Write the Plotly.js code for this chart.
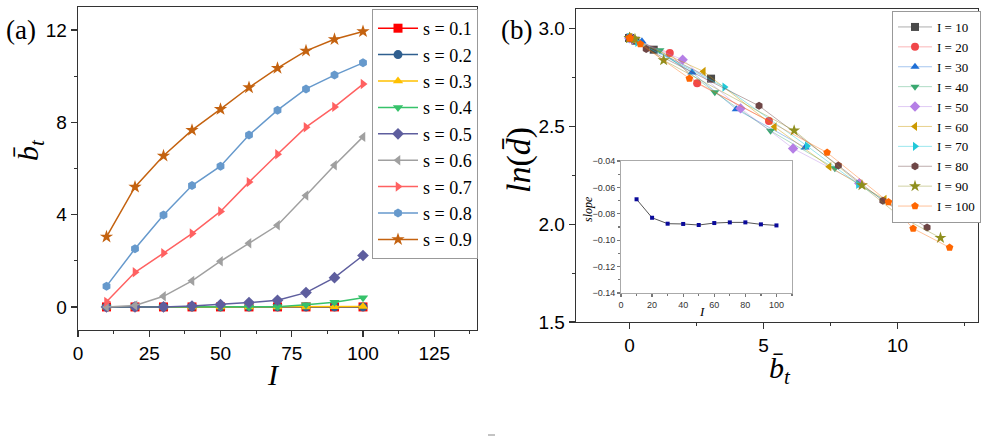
<!DOCTYPE html>
<html>
<head>
<meta charset="utf-8">
<script src="https://cdn.plot.ly/plotly-3.0.1.min.js"></script>
<style>html,body{margin:0;padding:0;background:#fff;overflow:hidden;}#chart{width:986px;height:437px;}</style>
</head>
<body>
<div id="chart"></div>
<script>
// ---------- Panel (a): b_t vs I ----------
const I_vals = [10, 20, 30, 40, 50, 60, 70, 80, 90, 100];
const s_labels = ['s = 0.1','s = 0.2','s = 0.3','s = 0.4','s = 0.5','s = 0.6','s = 0.7','s = 0.8','s = 0.9'];
const bt_s01 = [0, 0, 0, 0, 0, 0, 0, 0, 0, 0];
const bt_s02 = [0, 0, 0, 0, 0, 0, 0, 0, 0, 0];
const bt_s03 = [0, 0, 0, 0, 0, 0, 0, 0, 0.01, 0.02];
const bt_s04 = [0, 0, 0, 0, 0, 0, 0.01, 0.09, 0.20, 0.40];
const bt_s05 = [0, 0, 0, 0.04, 0.10, 0.19, 0.29, 0.62, 1.27, 2.23];
const bt_s06 = [0, 0.06, 0.46, 1.13, 1.98, 2.76, 3.54, 4.83, 6.14, 7.37];
const bt_s07 = [0.22, 1.50, 2.33, 3.18, 4.14, 5.41, 6.62, 7.79, 8.67, 9.66];
const bt_s08 = [0.90, 2.52, 3.98, 5.26, 6.10, 7.45, 8.53, 9.45, 10.05, 10.58];
const bt_s09 = [3.04, 5.20, 6.55, 7.66, 8.57, 9.51, 10.35, 11.10, 11.60, 11.94];

// ---------- Panel (b): ln(d) vs b_t (x values come from panel a, s = 0.1 ... 0.9) ----------
const I_labels = ['I = 10','I = 20','I = 30','I = 40','I = 50','I = 60','I = 70','I = 80','I = 90','I = 100'];
const lnd_I10  = [2.952, 2.952, 2.952, 2.952, 2.952, 2.952, 2.938, 2.892, 2.744];
const lnd_I20  = [2.952, 2.952, 2.952, 2.952, 2.952, 2.948, 2.875, 2.720, 2.528];
const lnd_I30  = [2.952, 2.952, 2.952, 2.952, 2.952, 2.935, 2.776, 2.588, 2.392];
const lnd_I40  = [2.952, 2.952, 2.952, 2.952, 2.950, 2.889, 2.674, 2.477, 2.286];
const lnd_I50  = [2.952, 2.952, 2.952, 2.952, 2.945, 2.841, 2.592, 2.387, 2.209];
const lnd_I60  = [2.952, 2.952, 2.952, 2.952, 2.940, 2.781, 2.498, 2.294, 2.127];
const lnd_I70  = [2.952, 2.952, 2.952, 2.952, 2.930, 2.701, 2.400, 2.204, 2.052];
const lnd_I80  = [2.952, 2.952, 2.952, 2.948, 2.896, 2.605, 2.300, 2.120, 1.983];
const lnd_I90  = [2.952, 2.952, 2.952, 2.947, 2.838, 2.479, 2.199, 2.043, 1.930];
const lnd_I100 = [2.952, 2.952, 2.950, 2.921, 2.745, 2.366, 2.113, 1.978, 1.881];

// ---------- Inset: slope vs I ----------
const slope_vals = [-0.069, -0.083, -0.0875, -0.0877, -0.0885, -0.087, -0.0865, -0.0865, -0.088, -0.0888];

// ---------- styles ----------
const sColors = ['#FF0000','#2F5F8F','#FFC000','#36C26A','#5E5E9E','#A0A0A0','#FF6161','#6699CC','#C4620F'];
const sSymbols = ['square','circle','triangle-up','triangle-down','diamond','triangle-left','triangle-right','hexagon','star'];
const iColors = ['#4A4A4A','#F0474A','#1F6FD6','#3AA870','#B57FE6','#CC9900','#22C8D8','#6E4646','#8F8F1E','#FF6600'];
const iLines  = ['rgba(74,74,74,0.45)','rgba(240,71,74,0.4)','rgba(31,111,214,0.4)','rgba(58,168,112,0.4)','rgba(181,127,230,0.4)','rgba(204,153,0,0.45)','rgba(34,200,216,0.45)','rgba(110,70,70,0.45)','rgba(143,143,30,0.4)','rgba(255,102,0,0.4)'];
const iSymbols = ['square','circle','triangle-up','triangle-down','diamond','triangle-left','triangle-right','hexagon','star','pentagon'];

const btSeries = [bt_s01, bt_s02, bt_s03, bt_s04, bt_s05, bt_s06, bt_s07, bt_s08, bt_s09];
const lndSeries = [lnd_I10, lnd_I20, lnd_I30, lnd_I40, lnd_I50, lnd_I60, lnd_I70, lnd_I80, lnd_I90, lnd_I100];

const serif = 'Liberation Serif';
const sans = 'Liberation Sans';

const traces = [];
btSeries.forEach((ys, k) => {
  traces.push({
    x: I_vals, y: ys, type: 'scatter', mode: 'lines+markers', name: s_labels[k],
    xaxis: 'x', yaxis: 'y', legend: 'legend',
    line: {color: sColors[k], width: 1.5},
    marker: {symbol: sSymbols[k], color: sColors[k], size: sSymbols[k] === 'star' ? 10 : 9}
  });
});
lndSeries.forEach((ys, j) => {
  const xs = btSeries.map(s => s[j]);
  traces.push({
    x: xs, y: ys, type: 'scatter', mode: 'lines+markers', name: I_labels[j],
    xaxis: 'x2', yaxis: 'y2', legend: 'legend2',
    line: {color: iLines[j], width: 1},
    marker: {symbol: iSymbols[j], color: iColors[j], size: iSymbols[j] === 'star' ? 9 : 8}
  });
});
traces.push({
  x: I_vals, y: slope_vals, type: 'scatter', mode: 'lines+markers', name: 'slope',
  xaxis: 'x3', yaxis: 'y3', showlegend: false,
  line: {color: '#555555', width: 1},
  marker: {symbol: 'square', color: '#0A0A9A', size: 4}
});

const W = 986, H = 437;
const px = v => v / W, py = v => 1 - v / H;
const tickFont = {family: sans, size: 19, color: '#000'};
function axis(range, dtick, mdtick, domain, anchor, opts) {
  return Object.assign({
    range: range, dtick: dtick, tick0: 0, domain: domain, anchor: anchor,
    showgrid: false, zeroline: false, showline: true, mirror: true,
    linecolor: '#333', linewidth: 1.3, ticks: 'outside', ticklen: 6, tickwidth: 1.2, tickcolor: '#333',
    tickfont: tickFont, automargin: false,
    minor: {dtick: mdtick, tick0: 0, ticks: 'outside', ticklen: 3, tickcolor: '#333', tickwidth: 1, showgrid: false}
  }, opts || {});
}
const insetTickFont = {family: sans, size: 9, color: '#333'};

function ann(text, x, y, size, extra) {
  return Object.assign({text: text, x: px(x), y: py(y), xref: 'paper', yref: 'paper',
    xanchor: 'center', yanchor: 'middle', showarrow: false,
    font: {family: serif, size: size, color: '#000'}}, extra || {});
}

const layout = {
  width: W, height: H,
  margin: {l: 0, r: 0, t: 0, b: 0, autoexpand: false},
  font: {family: serif, color: '#000'},
  paper_bgcolor: '#fff', plot_bgcolor: 'rgba(0,0,0,0)',
  showlegend: true,
  xaxis: axis([0, 140], 25, 12.5, [px(78), px(477)], 'y'),
  yaxis: axis([-1, 13], 4, 2, [py(330), py(7)], 'x'),
  xaxis2: axis([-2, 13], 5, 2.5, [px(576), px(978)], 'y2'),
  yaxis2: axis([1.5, 3.1], 0.5, 0.25, [py(322), py(9)], 'x2', {tickformat: '.1f', tick0: 1.5,
    minor: {dtick: 0.25, tick0: 1.5, ticks: 'outside', ticklen: 3, tickcolor: '#333', tickwidth: 1, showgrid: false}}),
  xaxis3: axis([0, 110], 20, 10, [px(621), px(792)], 'y3', {
    linecolor: '#AAAAAA', linewidth: 1, ticklen: 3, tickcolor: '#777', tickfont: insetTickFont,
    minor: {dtick: 10, tick0: 0, ticks: 'outside', ticklen: 2, tickcolor: '#777', showgrid: false}
  }),
  yaxis3: axis([-0.14, -0.04], 0.02, 0.01, [py(293), py(161)], 'x3', {
    tick0: -0.14, tickformat: '.2f',
    linecolor: '#AAAAAA', linewidth: 1, ticklen: 3, tickcolor: '#777', tickfont: insetTickFont,
    minor: {dtick: 0.01, tick0: -0.14, ticks: 'outside', ticklen: 2, tickcolor: '#777', showgrid: false}
  }),
  legend: {
    x: px(372), y: py(9), xanchor: 'left', yanchor: 'top',
    bgcolor: '#fff', bordercolor: '#999', borderwidth: 1,
    font: {family: serif, size: 18, color: '#000'},
    itemwidth: 40, tracegroupgap: 0
  },
  legend2: {
    x: px(892), y: py(11), xanchor: 'left', yanchor: 'top',
    bgcolor: '#fff', bordercolor: '#999', borderwidth: 1,
    font: {family: serif, size: 13, color: '#000'},
    itemwidth: 34, tracegroupgap: 0
  },
  annotations: [
    ann('(a)', 21, 30, 27),
    ann('(b)', 516, 30, 27),
    ann('<i>I</i>', 273, 374, 30),
    ann('<i>b\u0304</i><sub><i>t</i></sub>', 30, 150, 30, {textangle: -90}),
    ann('<i>b\u0304</i><sub><i>t</i></sub>', 780, 370, 30),
    ann('<i>ln</i>(<i>d\u0304</i>)', 519, 160, 34, {textangle: -90}),
    ann('<i>slope</i>', 588, 209, 12, {textangle: -90}),
    ann('<i>I</i>', 702, 311, 13)
  ],
  shapes: [
    {type: 'line', xref: 'paper', yref: 'paper', x0: px(488), x1: px(495), y0: py(435), y1: py(435), line: {color: '#888', width: 1}}
  ]
};

Plotly.newPlot('chart', traces, layout, {displayModeBar: false, staticPlot: true});
</script>
</body>
</html>
